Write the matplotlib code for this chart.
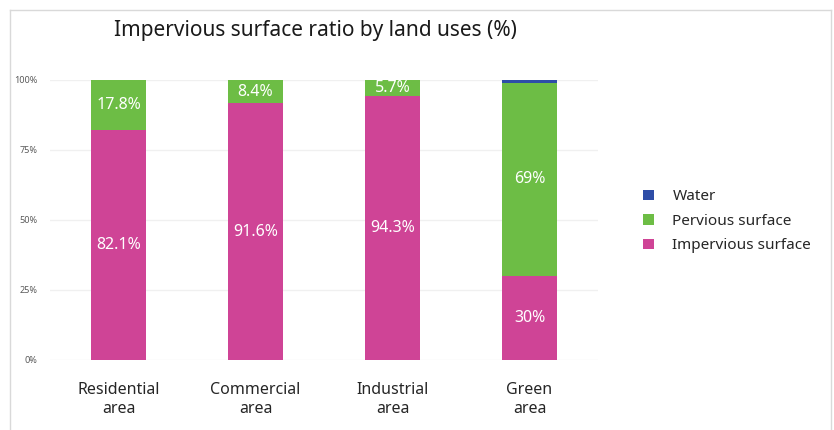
import numpy as np
import matplotlib.pyplot as plt
from matplotlib.lines import Line2D

categories = ["Residential\narea", "Commercial\narea", "Industrial\narea", "Green\narea"]
impervious = [82.1, 91.6, 94.3, 30.0]
pervious = [17.8, 8.4, 5.7, 69.0]
water = [0.1, 0.0, 0.0, 1.0]
imp_labels = ["82.1%", "91.6%", "94.3%", "30%"]
perv_labels = ["17.8%", "8.4%", "5.7%", "69%"]

c_imp = "#cf4496"
c_perv = "#6dbd45"
c_water = "#2e4da7"

plt.rcParams['font.family'] = ['Noto Sans', 'DejaVu Sans']

fig = plt.figure(figsize=(8.34, 4.30), dpi=100)
ax = fig.add_axes([0.060, 0.163, 0.657, 0.651])

x = np.arange(len(categories))
imp = np.array(impervious)
perv = np.array(pervious)
wat = np.array(water)
w = 0.395

b1 = ax.bar(x, imp, w, color=c_imp, label="Impervious surface", zorder=3)
b2 = ax.bar(x, perv, w, bottom=imp, color=c_perv, label="Pervious surface", zorder=3)
b3 = ax.bar(x, wat, w, bottom=imp + perv, color=c_water, label="Water", zorder=3)

for i in range(len(x)):
    ax.text(x[i], imp[i] / 2, imp_labels[i], ha="center", va="center",
            color="white", fontsize=11.5, zorder=4)
    ax.text(x[i], imp[i] + perv[i] / 2, perv_labels[i], ha="center", va="center",
            color="white", fontsize=11.5, zorder=4)

ax.set_xlim(-0.5, 3.5)
ax.set_ylim(0, 100)
ax.set_yticks([0, 25, 50, 75, 100])
ax.set_yticklabels(["0%", "25%", "50%", "75%", "100%"], fontsize=6.5, color="#595959")
ax.set_xticks(x)
ax.set_xticklabels(categories, fontsize=11.5, color="#262626")
ax.tick_params(axis="both", length=0)
ax.tick_params(axis="x", pad=16)
ax.tick_params(axis="y", pad=9)
ax.grid(axis="y", color="#f0f0f0", linewidth=1, zorder=0)
for s in ax.spines.values():
    s.set_visible(False)

fig.text(0.378, 0.93, "Impervious surface ratio by land uses (%)", ha="center",
         va="center", fontsize=15, color="#1a1a1a")

handles = [b3, b2, b1]
leg = fig.legend(handles, [h.get_label() for h in handles], loc="center left",
                 bbox_to_anchor=(0.755, 0.485), frameon=False, fontsize=11,
                 handlelength=0.7, handleheight=0.7, labelspacing=0.62,
                 handletextpad=1.2)
for t in leg.get_texts():
    t.set_color("#262626")

# outer frame
fc = "#d9d9d9"
fig.add_artist(Line2D([0.0125, 0.0125], [0.0, 0.977], color=fc, lw=1))
fig.add_artist(Line2D([0.0125, 0.996], [0.977, 0.977], color=fc, lw=1))
fig.add_artist(Line2D([0.996, 0.996], [0.0, 0.977], color=fc, lw=1))

fig.savefig("out.png", dpi=100, facecolor="white")
